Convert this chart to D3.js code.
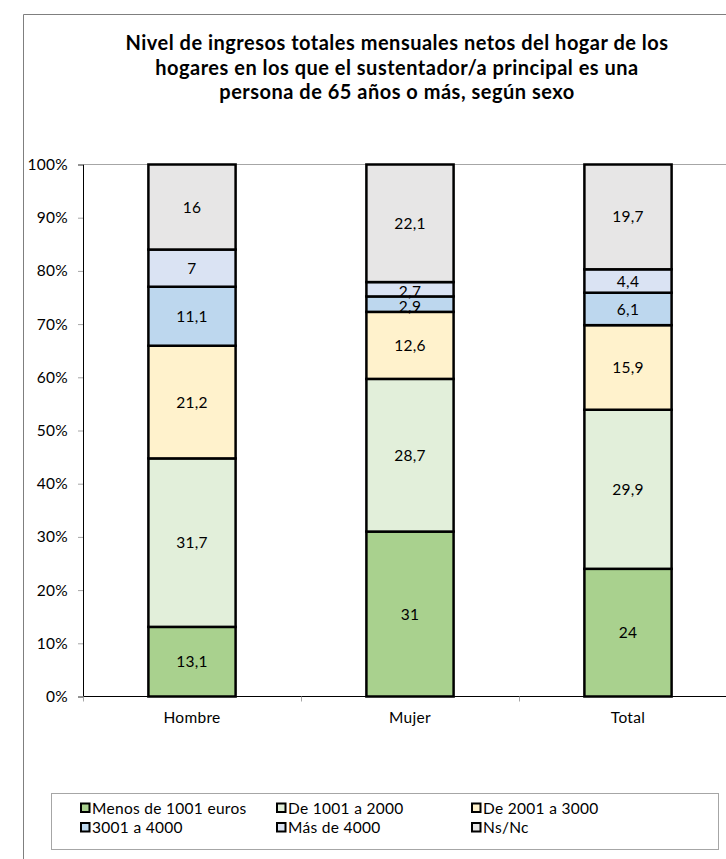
<!DOCTYPE html>
<html>
<head>
<meta charset="utf-8">
<script src="https://cdn.jsdelivr.net/npm/d3@7"></script>
<style>
  body { margin: 0; background: #fff; }
  svg { display: block; font-family: Lato, "Open Sans", sans-serif; }
</style>
</head>
<body>
<div id="chart"></div>
<script>
var categories = ["Hombre", "Mujer", "Total"];
var seriesNames = ["Menos de 1001 euros", "De 1001 a 2000", "De 2001 a 3000", "3001 a 4000", "Más de 4000", "Ns/Nc"];
var seriesColors = ["#a9d18e", "#e2efda", "#fff2cc", "#bdd7ee", "#dae3f3", "#e7e6e6"];
var menos1001 = [13.1, 31, 24];
var de1001a2000 = [31.7, 28.7, 29.9];
var de2001a3000 = [21.2, 12.6, 15.9];
var de3001a4000 = [11.1, 2.9, 6.1];
var mas4000 = [7, 2.7, 4.4];
var nsnc = [16, 22.1, 19.7];
var yTicks = [0, 10, 20, 30, 40, 50, 60, 70, 80, 90, 100];
var titleLines = [
  "Nivel de ingresos totales mensuales netos del hogar de los",
  "hogares en los que el sustentador/a principal es una",
  "persona de 65 años o más, según sexo"
];

var width = 726, height = 859;
var plotLeft = 83, plotTop = 164.5, plotW = 654, plotH = 532;
var fs = "15.5px", ls = "0.3px";

var svg = d3.select("#chart").append("svg")
  .attr("width", width)
  .attr("height", height);

// outer chart border (cut by window at right/bottom)
svg.append("path")
  .attr("d", "M23.5," + height + "V14.5H" + width)
  .attr("fill", "none")
  .attr("stroke", "#7f7f7f")
  .attr("stroke-width", 1);

// title
svg.append("text")
  .attr("x", 397)
  .attr("y", 50)
  .attr("text-anchor", "middle")
  .style("font-weight", "bold")
  .style("font-size", "20px")
  .style("letter-spacing", "0.5px")
  .attr("fill", "#000")
  .selectAll("tspan")
  .data(titleLines)
  .enter().append("tspan")
    .attr("x", 397)
    .attr("dy", function(d, i) { return i === 0 ? 0 : 24.5; })
    .text(function(d) { return d; });

var seriesValues = [menos1001, de1001a2000, de2001a3000, de3001a4000, mas4000, nsnc];

var rows = categories.map(function(c, j) {
  var row = { cat: c };
  var sum = 0;
  seriesNames.forEach(function(s, i) { sum += seriesValues[i][j]; });
  seriesNames.forEach(function(s, i) { row[s] = seriesValues[i][j] / sum * 100; row["raw_" + s] = seriesValues[i][j]; });
  return row;
});

var stack = d3.stack().keys(seriesNames);
var stacked = stack(rows);

var x = d3.scaleBand()
  .domain(categories)
  .range([plotLeft, plotLeft + plotW])
  .paddingInner(0.6)
  .paddingOuter(0.3);

var y = d3.scaleLinear()
  .domain([0, 100])
  .range([plotTop + plotH, plotTop]);

var g = svg.append("g");

// top gridline
g.append("line")
  .attr("x1", plotLeft).attr("x2", width)
  .attr("y1", y(100)).attr("y2", y(100))
  .attr("stroke", "#a6a6a6")
  .attr("stroke-width", 1);

// y axis
var yAxis = d3.axisLeft(y)
  .tickValues(yTicks)
  .tickSize(5)
  .tickFormat(function(d) { return d + "%"; });

var yg = g.append("g")
  .attr("transform", "translate(" + plotLeft + ",0)")
  .call(yAxis);
yg.select(".domain").attr("stroke", "#000");
yg.selectAll(".tick line").attr("stroke", "#a6a6a6");
yg.selectAll(".tick text")
  .attr("x", -15)
  .style("font-size", fs)
  .style("letter-spacing", ls)
  .style("font-family", "Lato, sans-serif")
  .attr("fill", "#000");

// bars
var layer = g.selectAll(".layer")
  .data(stacked)
  .enter().append("g")
    .attr("class", "layer")
    .attr("fill", function(d, i) { return seriesColors[i]; });

layer.selectAll("rect")
  .data(function(d) { return d; })
  .enter().append("rect")
    .attr("x", function(d) { return x(d.data.cat); })
    .attr("width", x.bandwidth())
    .attr("y", function(d) { return y(d[1]); })
    .attr("height", function(d) { return y(d[0]) - y(d[1]); })
    .attr("stroke", "#000")
    .attr("stroke-width", 2.5);

layer.each(function(s) {
  d3.select(this).selectAll("text")
    .data(s)
    .enter().append("text")
      .attr("x", function(d) { return x(d.data.cat) + x.bandwidth() / 2; })
      .attr("y", function(d) { return (y(d[0]) + y(d[1])) / 2; })
      .attr("dy", function(d) { return (y(d[0]) - y(d[1])) < 18 ? "0.5em" : "0.36em"; })
      .attr("text-anchor", "middle")
      .attr("fill", "#000")
      .style("font-size", fs)
      .style("letter-spacing", ls)
      .text(function(d) { return String(d.data["raw_" + s.key]).replace(".", ","); });
});

// x axis
var xAxisLine = d3.axisBottom(d3.scaleLinear().domain([0, 3]).range([plotLeft, plotLeft + plotW]))
  .tickValues([0, 1, 2, 3])
  .tickSize(5)
  .tickFormat("");
var xg = g.append("g")
  .attr("transform", "translate(0," + y(0) + ")")
  .call(xAxisLine);
xg.select(".domain").attr("stroke", "#000").attr("d", "M" + plotLeft + ",0H" + (plotLeft + plotW));
xg.selectAll(".tick line").attr("stroke", "#a6a6a6");

g.selectAll(".catlabel")
  .data(categories)
  .enter().append("text")
    .attr("class", "catlabel")
    .attr("x", function(d) { return x(d) + x.bandwidth() / 2; })
    .attr("y", y(0) + 26)
    .attr("text-anchor", "middle")
    .style("font-size", fs)
    .style("letter-spacing", ls)
    .attr("fill", "#000")
    .text(function(d) { return d; });

// legend
var legend = svg.append("g");
legend.append("rect")
  .attr("x", 51.5).attr("y", 793.5)
  .attr("width", 667).attr("height", 56)
  .attr("fill", "#fff")
  .attr("stroke", "#a6a6a6");

var legendX = [80, 276, 471];
var item = legend.selectAll(".item")
  .data(seriesNames)
  .enter().append("g")
    .attr("class", "item")
    .attr("transform", function(d, i) {
      return "translate(" + legendX[i % 3] + "," + (808 + Math.floor(i / 3) * 19.5) + ")";
    });
item.append("rect")
  .attr("x", 1).attr("y", -4.5)
  .attr("width", 8.5).attr("height", 8.5)
  .attr("fill", function(d, i) { return seriesColors[i]; })
  .attr("stroke", "#000")
  .attr("stroke-width", 2);
item.append("text")
  .attr("x", 12)
  .attr("dy", "0.36em")
  .style("font-size", fs)
  .style("letter-spacing", ls)
  .attr("fill", "#000")
  .text(function(d) { return d; });
</script>
</body>
</html>
